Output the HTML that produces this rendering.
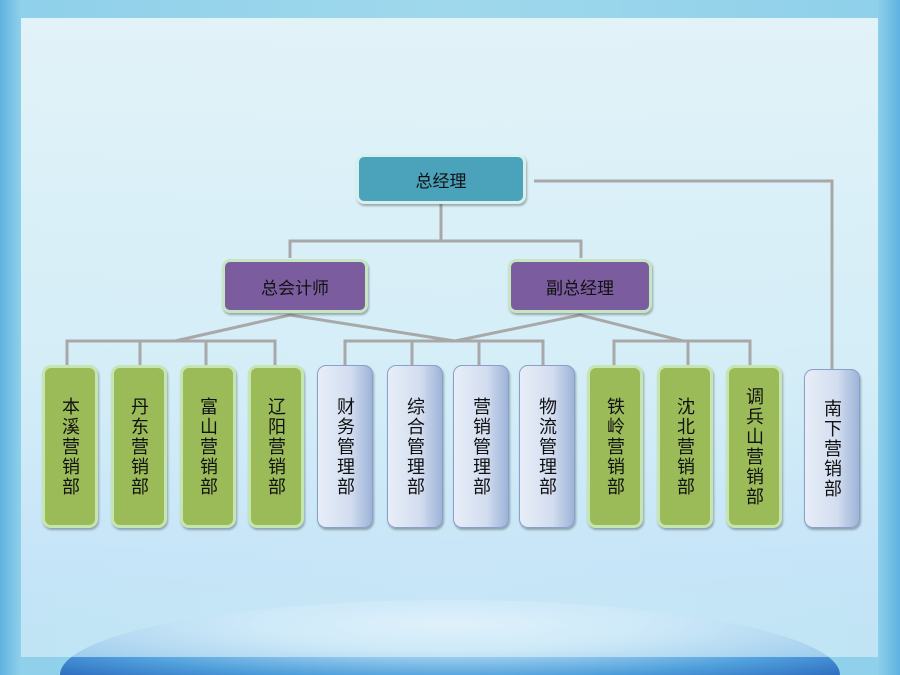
<!DOCTYPE html>
<html><head><meta charset="utf-8"><style>
html,body{margin:0;width:900px;height:675px;overflow:hidden;}
body{position:relative;font-family:"Liberation Sans","Noto Sans CJK SC",sans-serif;
background:linear-gradient(90deg,#5fb2e0 0%,#8fd0ea 2.3%,#9fd8ec 50%,#8fd0ea 97.5%,#5fb2e0 100%);}
.globe{position:absolute;left:60px;top:600px;width:780px;height:75px;border-radius:50% 50% 0 0 / 100% 100% 0 0;background:radial-gradient(ellipse at 50% 30%,#eef8fc 0%,#b8e0f4 35%,#4f9fdc 75%,#2f6fc0 100%);}
.panel{position:absolute;left:21px;top:18px;width:857px;height:639px;background:linear-gradient(180deg,rgba(228,244,248,.97) 0%,rgba(214,238,248,.95) 60%,rgba(207,232,250,.85) 85%,rgba(223,242,251,.6) 100%);}
.b{position:absolute;box-sizing:border-box;display:flex;align-items:center;justify-content:center;color:#111;font-size:17px;}
.top{background:#4aa3bb;border:3px solid #d8f0ec;border-radius:8px;box-shadow:1px 2px 2px rgba(0,0,0,.3);}
.pur{background:#7b5c9e;border:3px solid #c5e6c0;border-radius:8px;box-shadow:1px 2px 2px rgba(0,0,0,.3);}
.g,.u{width:56px;height:163px;top:365px;border-radius:9px;font-size:18px;letter-spacing:2px;line-height:22px;writing-mode:vertical-rl;text-orientation:upright;box-shadow:1px 2px 2px rgba(0,0,0,.3);}
.g{background:#9bbb59;border:3px solid #c5e6b0;}
.u{background:linear-gradient(90deg,#e8eef8 0%,#d2ddef 60%,#9db3d8 100%);border:1px solid #8aa0c8;}
</style></head><body>
<div class="globe"></div>
<div class="panel"></div>
<svg style="position:absolute;left:0;top:0" width="900" height="675">
<g stroke="#a8a8a8" stroke-width="3" fill="none">
<polyline points="441,204 441,241"/><polyline points="290,258 290,241 581,241 581,258"/>
<polyline points="534,181 832,181 832,370"/>
<polyline points="175,341 290,315 455,341"/><polyline points="455,341 580,315 683,341"/>
<polyline points="67,365 67,341 275,341 275,365"/><line x1="140" y1="341" x2="140" y2="365"/><line x1="206" y1="341" x2="206" y2="365"/>
<polyline points="345,365 345,341 543,341 543,365"/><line x1="412" y1="341" x2="412" y2="365"/><line x1="479" y1="341" x2="479" y2="365"/>
<polyline points="614,365 614,341 750,341 750,365"/><line x1="688" y1="341" x2="688" y2="365"/>
</g></svg>
<div class="b top" style="left:356px;top:154px;width:170px;height:50px">总经理</div>
<div class="b pur" style="left:222px;top:259px;width:146px;height:54px">总会计师</div>
<div class="b pur" style="left:508px;top:259px;width:144px;height:54px">副总经理</div>
<div class="b g" style="left:42px">本溪营销部</div>
<div class="b g" style="left:111px">丹东营销部</div>
<div class="b g" style="left:180px">富山营销部</div>
<div class="b g" style="left:248px">辽阳营销部</div>
<div class="b u" style="left:317px">财务管理部</div>
<div class="b u" style="left:387px">综合管理部</div>
<div class="b u" style="left:453px">营销管理部</div>
<div class="b u" style="left:519px">物流管理部</div>
<div class="b g" style="left:587px">铁岭营销部</div>
<div class="b g" style="left:657px">沈北营销部</div>
<div class="b g" style="left:726px">调兵山营销部</div>
<div class="b u" style="left:804px;top:369px;height:159px">南下营销部</div>
</body></html>
